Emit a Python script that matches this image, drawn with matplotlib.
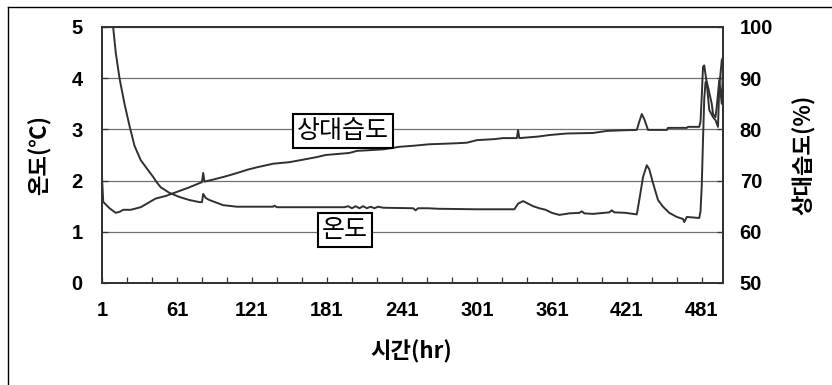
import matplotlib
matplotlib.use("Agg")
import matplotlib.pyplot as plt
from matplotlib.lines import Line2D

plt.rcParams['font.family'] = ['Noto Sans CJK KR', 'DejaVu Sans']

# ---- data ----
temp_hours = [1, 5, 9, 10, 12, 15, 19, 23, 27, 32, 38, 42, 45, 48, 55, 63, 71, 79, 81, 82, 84, 87,
              98, 109, 138, 139, 141, 165, 195, 198, 201, 204, 207, 210, 213, 216, 219, 222, 226,
              250, 252, 254, 262, 270, 300, 331, 334, 338, 342, 346, 351, 356, 361, 367, 375, 383,
              385, 387, 394, 407, 409, 411, 420, 429, 431, 434, 437, 439, 442, 446, 450, 455, 461,
              466, 467, 469, 474, 479, 480, 481, 482, 483, 484, 485, 486, 489, 490, 492, 493, 495,
              497, 498]
temp_values = [7.8, 6.6, 5.3, 4.98, 4.5, 4.0, 3.5, 3.07, 2.68, 2.4, 2.2, 2.07, 1.96, 1.87, 1.76,
               1.68, 1.62, 1.58, 1.58, 1.74, 1.66, 1.62, 1.52, 1.49, 1.49, 1.51, 1.48, 1.48, 1.48,
               1.50, 1.46, 1.50, 1.46, 1.50, 1.46, 1.49, 1.46, 1.49, 1.47, 1.46, 1.42, 1.46, 1.46,
               1.45, 1.44, 1.44, 1.55, 1.60, 1.55, 1.50, 1.46, 1.43, 1.37, 1.33, 1.36, 1.37, 1.40,
               1.36, 1.35, 1.38, 1.42, 1.38, 1.37, 1.34, 1.62, 2.07, 2.30, 2.22, 1.95, 1.62, 1.49,
               1.37, 1.29, 1.25, 1.19, 1.29, 1.28, 1.27, 1.40, 1.90, 2.80, 3.60, 3.92, 3.93, 3.83,
               3.50, 3.30, 3.24, 3.44, 3.96, 3.50, 4.20]

hum_hours = [1, 2, 3, 7, 12, 15, 18, 24, 32, 39, 44, 52, 61, 70, 80, 81, 82, 83, 90, 98, 108, 117,
             125, 138, 151, 160, 173, 180, 199, 205, 226, 234, 239, 250, 263, 275, 285, 293, 301,
             315, 322, 333, 334, 335, 345, 350, 359, 373, 394, 405, 415, 429, 431, 433, 435, 438,
             453, 454, 469, 470, 479, 480, 481, 482, 483, 485, 487, 490, 492, 494, 495, 497, 498]
hum_values = [70.7, 65.8, 65.6, 64.6, 63.7, 63.9, 64.3, 64.3, 64.8, 65.8, 66.5, 67.0, 67.8, 68.6,
              69.6, 69.7, 71.5, 69.8, 70.2, 70.7, 71.4, 72.1, 72.6, 73.3, 73.6, 74.0, 74.6, 75.0,
              75.4, 75.8, 76.1, 76.4, 76.6, 76.8, 77.1, 77.2, 77.3, 77.4, 77.9, 78.1, 78.3, 78.3,
              79.9, 78.3, 78.5, 78.6, 78.9, 79.2, 79.3, 79.7, 79.8, 79.9, 81.5, 83.0, 82.0, 79.9,
              79.9, 80.3, 80.3, 80.5, 80.5, 81.5, 86.5, 92.2, 92.5, 89.0, 83.8, 82.4, 81.8, 80.5,
              88.3, 93.5, 94.1]

x_ticks = list(range(1, 498, 20))
x_labels = [str(t) if (t - 1) % 60 == 0 else '' for t in x_ticks]
temp_ticks = [0, 1, 2, 3, 4, 5]
hum_ticks = [50, 60, 70, 80, 90, 100]

W, H = 832, 385
fig = plt.figure(figsize=(W / 100, H / 100), dpi=100)
L, R, T, B = 102, 723, 27, 283
ax = fig.add_axes([L / W, 1 - B / H, (R - L) / W, (B - T) / H])
ax2 = ax.twinx()

line_c = '#303030'
ax.plot(temp_hours, temp_values, color=line_c, lw=1.4, clip_on=True)
ax2.plot(hum_hours, hum_values, color=line_c, lw=1.4, clip_on=True)

ax.set_xlim(1, 498)
ax.set_ylim(0, 5)
ax2.set_ylim(50, 100)
ax.set_yticks(temp_ticks)
ax2.set_yticks(hum_ticks)
ax.set_xticks(x_ticks)
ax.set_xticklabels(x_labels)
ax.yaxis.grid(True, color='#707070', lw=0.9)
ax.set_axisbelow(True)

fs = 14.5
num_font = ['Liberation Sans', 'DejaVu Sans']
for a in (ax, ax2):
    for s in a.spines.values():
        s.set_color('#333333')
        s.set_linewidth(1.3)
ax.tick_params(axis='x', direction='in', length=4, width=0.9, color='#333333',
               labelsize=fs, pad=13)
ax.tick_params(axis='y', direction='in', length=4, width=0.9, color='#333333',
               labelsize=fs, pad=14)
ax2.tick_params(axis='y', direction='in', length=4, width=0.9, color='#333333',
                labelsize=fs, pad=12)
for lab in ax.get_xticklabels() + ax.get_yticklabels() + ax2.get_yticklabels():
    lab.set_fontweight('bold')
    lab.set_fontfamily(num_font)

lab_fs = 16
fig.text(40 / W, 1 - 155 / H, '온도(℃)', rotation=90, ha='center', va='center',
         fontsize=lab_fs, fontweight='bold')
fig.text(804 / W, 1 - 155 / H, '상대습도(%)', rotation=90, ha='center', va='center',
         fontsize=lab_fs, fontweight='bold')
fig.text(411 / W, 1 - 352 / H, '시간(hr)', ha='center', va='center',
         fontsize=lab_fs, fontweight='bold')

box = dict(boxstyle='square,pad=0.15', fc='white', ec='black', lw=1.5)
fig.text(343 / W, 1 - 131 / H, '상대습도', ha='center', va='center', fontsize=18, bbox=box)
fig.text(345 / W, 1 - 230 / H, '온도', ha='center', va='center', fontsize=18, bbox=box)

# chart-area border (partly cropped)
fig.add_artist(Line2D([8 / W, 1], [1 - 7 / H, 1 - 7 / H], transform=fig.transFigure,
                      color='black', lw=1.0))
fig.add_artist(Line2D([8 / W, 8 / W], [0, 1 - 7 / H], transform=fig.transFigure,
                      color='black', lw=1.0))

fig.savefig('out.png', dpi=100)
